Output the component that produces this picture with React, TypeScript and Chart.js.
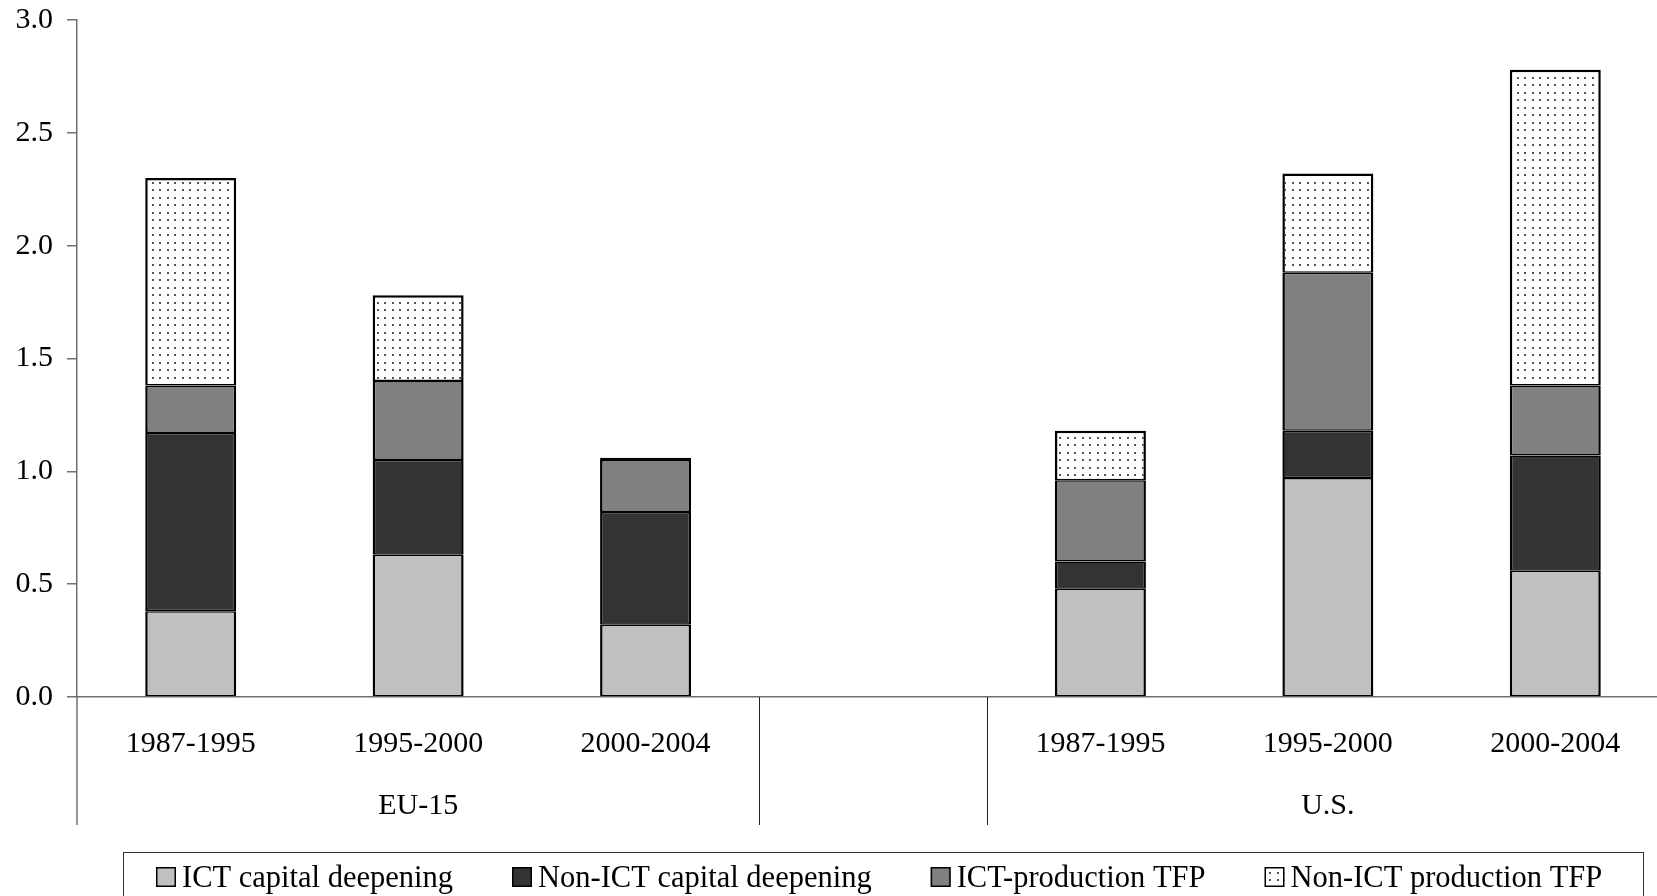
import React, { useEffect, useRef } from 'react';
import { Chart, registerables } from 'chart.js';

Chart.register(...registerables);

const periods = ['1987-1995', '1995-2000', '2000-2004', '', '1987-1995', '1995-2000', '2000-2004'];
const groupNames = ['EU-15', 'U.S.'];
const groupSlots = [[0, 1, 2], [4, 5, 6]];
const ictCapital = [0.38, 0.63, 0.32, null, 0.48, 0.97, 0.56];
const nonIctCapital = [0.79, 0.42, 0.5, null, 0.12, 0.21, 0.51];
const ictProductionTfp = [0.21, 0.35, 0.23, null, 0.36, 0.7, 0.31];
const nonIctProductionTfp = [0.92, 0.38, 0.01, null, 0.22, 0.44, 1.4];
const seriesNames = ['ICT capital deepening', 'Non-ICT capital deepening', 'ICT-production TFP', 'Non-ICT production TFP'];

const FONT = '"Liberation Serif", "Times New Roman", serif';

function makeDots(): CanvasPattern | string {
  const c = document.createElement('canvas');
  c.width = 15;
  c.height = 15;
  const g = c.getContext('2d');
  if (!g) return '#fff';
  g.fillStyle = '#fff';
  g.fillRect(0, 0, 15, 15);
  g.fillStyle = '#555';
  [[2, 2], [9, 2], [2, 9], [9, 9]].forEach(([x, y]) => g.fillRect(x, y, 2, 2));
  return g.createPattern(c, 'repeat') || '#fff';
}

const extras = {
  id: 'extras',
  afterDraw(chart: any) {
    const { ctx, chartArea } = chart;
    const xs = chart.scales.x;
    const bottomY = 825;
    const axisY = chartArea.bottom;
    ctx.save();
    // y axis extension
    ctx.strokeStyle = '#707070';
    ctx.lineWidth = 1.5;
    ctx.beginPath();
    ctx.moveTo(chartArea.left, axisY);
    ctx.lineTo(chartArea.left, bottomY);
    ctx.stroke();
    // separators
    ctx.strokeStyle = '#222';
    ctx.lineWidth = 1;
    const p2 = xs.getPixelForValue(2);
    const p3 = xs.getPixelForValue(3);
    const p4 = xs.getPixelForValue(4);
    [(p2 + p3) / 2, (p3 + p4) / 2].forEach((x) => {
      const xx = Math.round(x) + 0.5;
      ctx.beginPath();
      ctx.moveTo(xx, axisY);
      ctx.lineTo(xx, bottomY);
      ctx.stroke();
    });
    // group labels
    ctx.fillStyle = '#000';
    ctx.font = '30px ' + FONT;
    ctx.textAlign = 'center';
    ctx.textBaseline = 'middle';
    groupSlots.forEach((slots, i) => {
      const cx = slots.reduce((s, k) => s + xs.getPixelForValue(k), 0) / slots.length;
      ctx.fillText(groupNames[i], cx, 806);
    });
    // legend frame
    ctx.strokeStyle = '#333';
    ctx.lineWidth = 1;
    ctx.strokeRect(123.5, 852.5, 1520, 60);
    // legend items
    ctx.font = '30.5px ' + FONT;
    ctx.textAlign = 'left';
    ctx.textBaseline = 'alphabetic';
    let x = 156;
    chart.data.datasets.forEach((d: any) => {
      ctx.fillStyle = d.backgroundColor;
      ctx.fillRect(x, 867, 20, 20);
      ctx.strokeStyle = '#000';
      ctx.lineWidth = 1.5;
      ctx.strokeRect(x + 0.75, 867.75, 18.5, 18.5);
      ctx.fillStyle = '#000';
      ctx.fillText(d.label, x + 26, 887);
      x += 26 + ctx.measureText(d.label).width + 59;
    });
    ctx.restore();
  },
};

export default function App() {
  const ref = useRef<HTMLCanvasElement>(null);
  useEffect(() => {
    if (!ref.current) return;
    const dots = makeDots();
    const colors = ['#c0c0c0', '#333333', '#808080', dots];
    const values = [ictCapital, nonIctCapital, ictProductionTfp, nonIctProductionTfp];
    const chart = new Chart(ref.current, {
      type: 'bar',
      data: {
        labels: periods,
        datasets: values.map((v, i) => ({
          label: seriesNames[i],
          data: v,
          backgroundColor: colors[i] as any,
          borderColor: '#000',
          borderWidth: (c: any) => ({ left: 2.5, right: 2.5, top: c.datasetIndex === 3 ? 2.5 : 1.5, bottom: 1.5 }),
          borderSkipped: false,
          barPercentage: 0.4,
          categoryPercentage: 1,
        })),
      },
      options: {
        responsive: false,
        animation: false,
        devicePixelRatio: 1,
        layout: { padding: { left: 0, right: 11, top: 20, bottom: 0 } },
        plugins: { legend: { display: false }, tooltip: { enabled: false } },
        scales: {
          x: {
            stacked: true,
            grid: { display: false, drawTicks: false },
            border: { display: true, color: '#707070', width: 1.5 },
            ticks: { font: { family: FONT, size: 30 }, color: '#000', padding: 29, maxRotation: 0, autoSkip: false },
            afterFit: (s: any) => { s.height = 199; s.paddingLeft = 0; s.paddingRight = 0; },
          },
          y: {
            stacked: true,
            min: 0,
            max: 3,
            ticks: {
              stepSize: 0.5,
              font: { family: FONT, size: 30 },
              color: '#000',
              padding: 14,
              callback: (v: any) => Number(v).toFixed(1),
            },
            grid: { drawOnChartArea: false, drawTicks: true, tickLength: 10, color: '#707070', lineWidth: 1.5 },
            border: { display: true, color: '#707070', width: 1.5 },
            afterFit: (s: any) => { s.width = 77; s.paddingTop = 0; s.paddingBottom = 0; },
          },
        },
      },
      plugins: [extras],
    });
    return () => chart.destroy();
  }, []);
  return (
    <div style={{ position: 'absolute', left: 0, top: 0, width: 1657, height: 896, overflow: 'hidden', background: '#fff' }}>
      <canvas ref={ref} width={1680} height={896} style={{ display: 'block' }} />
    </div>
  );
}
